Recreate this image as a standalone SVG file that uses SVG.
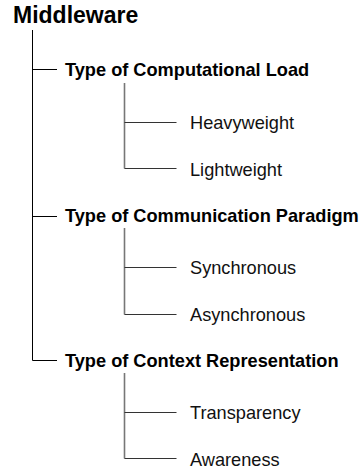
<svg xmlns="http://www.w3.org/2000/svg" width="363" height="470" viewBox="0 0 363 470">
<style>
.t0{font-family:"Liberation Sans",Arial,sans-serif;font-weight:bold;font-size:23px;fill:#000}
.t1{font-family:"Liberation Sans",Arial,sans-serif;font-weight:bold;font-size:18.2px;fill:#000}
.t2{font-family:"Liberation Sans",Arial,sans-serif;font-size:18.2px;fill:#111}
.main{stroke:#000;stroke-width:1;fill:none}
.sub{stroke:#777;stroke-width:1.6;fill:none}
.h2{stroke:#333;stroke-width:1.2;fill:none}
</style>
<rect width="363" height="470" fill="#fff"/>
<g id="connectors">
<path class="main" d="M32.5 30 V360.5 H57 M32 69.5 H57 M32 216.5 H57"/>
<path class="sub" d="M124.5 83 V168.5 M124.5 228 V314.5 M124.5 373 V458.5"/>
<path class="h2" d="M124.5 122.5 H176.5 M124.5 168.5 H176.5 M124.5 267.5 H176.5 M124.5 314.5 H176.5 M124.5 412.5 H176.5 M124.5 458.5 H176.5"/>
</g>
<g id="n-middleware"><text class="t0" x="13" y="23">Middleware</text></g>
<g id="n-load"><text class="t1" x="65" y="76">Type of Computational Load</text></g>
<g id="n-heavy"><text class="t2" x="190" y="129">Heavyweight</text></g>
<g id="n-light"><text class="t2" x="190" y="176">Lightweight</text></g>
<g id="n-comm"><text class="t1" x="65" y="222">Type of Communication Paradigm</text></g>
<g id="n-sync"><text class="t2" x="190" y="274">Synchronous</text></g>
<g id="n-async"><text class="t2" x="190" y="321">Asynchronous</text></g>
<g id="n-context"><text class="t1" x="65" y="367">Type of Context Representation</text></g>
<g id="n-transp"><text class="t2" x="190" y="419">Transparency</text></g>
<g id="n-aware"><text class="t2" x="190" y="466">Awareness</text></g>
</svg>
